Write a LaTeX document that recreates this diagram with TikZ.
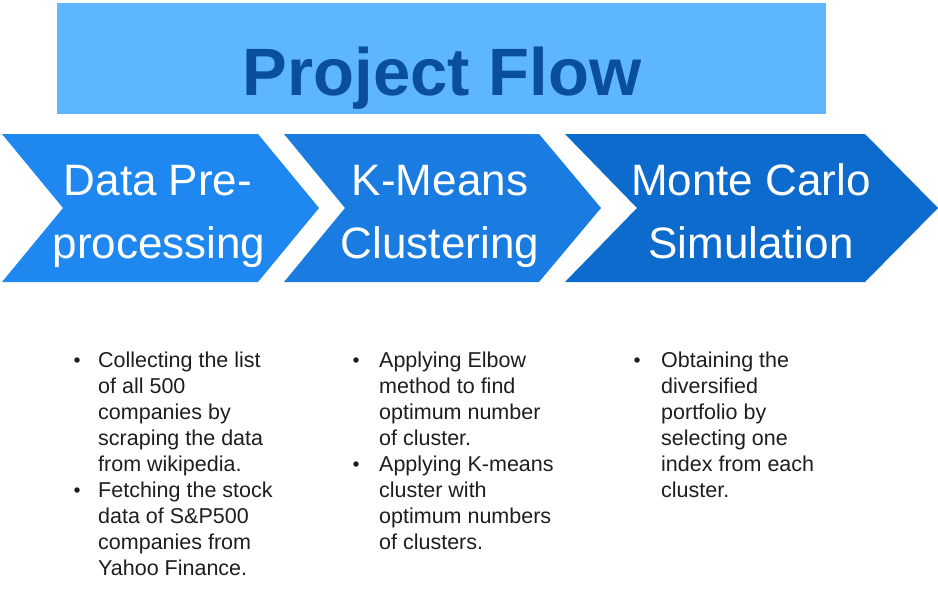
\documentclass[tikz,border=0pt]{standalone}
\usepackage{fontspec}
\setmainfont{Liberation Sans}
\definecolor{titlebox}{HTML}{5EB6FF}
\definecolor{titletext}{HTML}{0A4F9E}
\definecolor{chevA}{HTML}{1E88F0}
\definecolor{chevB}{HTML}{1A7BE0}
\definecolor{chevC}{HTML}{0C6BCD}
\definecolor{bodytext}{HTML}{1E1E1E}
\tikzset{
  chevtext/.style={text=white, font=\fontsize{44}{63}\selectfont, anchor=base, inner sep=0pt},
  bline/.style={text=bodytext, font=\fontsize{21.5}{26}\selectfont, anchor=base west, inner sep=0pt},
  bdot/.style={fill=bodytext, circle, inner sep=0pt, minimum size=5.5pt},
}
\begin{document}
\begin{tikzpicture}[x=1pt,y=-1pt]
\useasboundingbox (0,0) rectangle (938,614);
\fill[white] (0,0) rectangle (938,614);
% title
\fill[titlebox] (57,3) rectangle (826,114);
\node[text=titletext, font=\fontsize{67}{70}\selectfont\bfseries, anchor=base, inner sep=0pt] (title) at (442,95) {Project Flow};
% chevrons
\fill[chevA] (2,134) -- (258,134) -- (319,208) -- (258,282) -- (2,282) -- (63,208) -- cycle;
\fill[chevB] (284,134) -- (539,134) -- (601,208) -- (539,282) -- (284,282) -- (345,208) -- cycle;
\fill[chevC] (565,134) -- (865,134) -- (938,208) -- (865,282) -- (565,282) -- (637,208) -- cycle;
\node[chevtext] (c1a) at (158,195) {Data Pre-};
\node[chevtext] (c1b) at (159,258) {processing};
\node[chevtext] (c2a) at (440,195) {K-Means};
\node[chevtext] (c2b) at (440,258) {Clustering};
\node[chevtext] (c3a) at (751,195) {Monte Carlo};
\node[chevtext] (c3b) at (751,258) {Simulation};
% column 1
\node[bdot] (d1a) at (77,360) {};
\node[bline] (l1a) at (98,367) {Collecting the list};
\node[bline] (l1b) at (98,393) {of all 500};
\node[bline] (l1c) at (98,419) {companies by};
\node[bline] (l1d) at (98,445) {scraping the data};
\node[bline] (l1e) at (98,471) {from wikipedia.};
\node[bdot] (d1b) at (77,490) {};
\node[bline] (l1f) at (98,497) {Fetching the stock};
\node[bline] (l1g) at (98,523) {data of S\&P500};
\node[bline] (l1h) at (98,549) {companies from};
\node[bline] (l1i) at (98,575) {Yahoo Finance.};
% column 2
\node[bdot] (d2a) at (356,360) {};
\node[bline] (l2a) at (379,367) {Applying Elbow};
\node[bline] (l2b) at (379,393) {method to find};
\node[bline] (l2c) at (379,419) {optimum number};
\node[bline] (l2d) at (379,445) {of cluster.};
\node[bdot] (d2b) at (356,464) {};
\node[bline] (l2e) at (379,471) {Applying K-means};
\node[bline] (l2f) at (379,497) {cluster with};
\node[bline] (l2g) at (379,523) {optimum numbers};
\node[bline] (l2h) at (379,549) {of clusters.};
% column 3
\node[bdot] (d3a) at (637,360) {};
\node[bline] (l3a) at (661,367) {Obtaining the};
\node[bline] (l3b) at (661,393) {diversified};
\node[bline] (l3c) at (661,419) {portfolio by};
\node[bline] (l3d) at (661,445) {selecting one};
\node[bline] (l3e) at (661,471) {index from each};
\node[bline] (l3f) at (661,497) {cluster.};
\end{tikzpicture}
\end{document}
